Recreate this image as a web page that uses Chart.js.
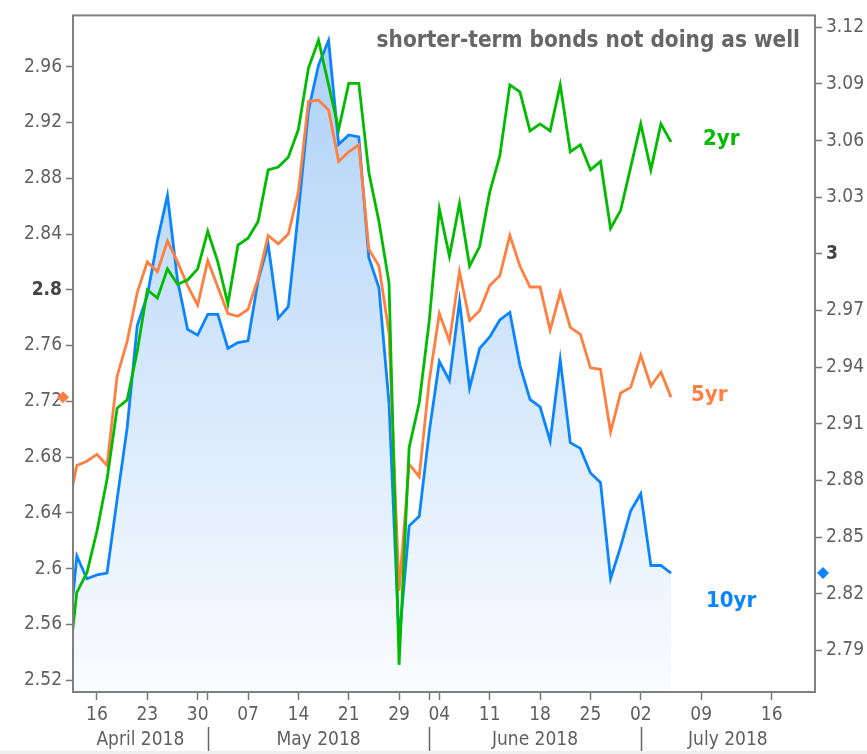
<!DOCTYPE html>
<html>
<head>
<meta charset="utf-8">
<script src="https://cdn.jsdelivr.net/npm/chart.js@4.4.1/dist/chart.umd.min.js"></script>
<style>
  html, body { margin:0; padding:0; background:#fff; }
  canvas { display:block; }
</style>
</head>
<body>
<canvas id="yieldChart" width="867" height="754"></canvas>
<script>
/* Treasury yields, Apr - Jul 2018: 2yr / 5yr on the left scale, 10yr on the right */

// trading days shown (first one sits just left of the plot edge)
const aprDays = [11,12,13,16,17,18,19,20,23,24,25,26,27,30];
const mayDays = [1,2,3,4,7,8,9,10,11,14,15,16,17,18,21,22,23,24,25,29,30,31];
const junDays = [1,4,5,6,7,8,11,12,13,14,15,18,19,20,21,22,25,26,27,28,29];
const julDays = [2,3,5,6];
// after the last close the axis runs on calendar days
const julFuture = [7,8,9,10,11,12,13,14,15,16,17,18,19,20,21];

const xTickDates = ['4/16','4/23','4/30','5/7','5/14','5/21','5/29','6/4','6/11','6/18','6/25','7/2','7/9','7/16'];
const monthStarts = ['5/1','6/1','7/2'];
const monthNames = ['April 2018','May 2018','June 2018','July 2018'];

const leftTicks  = [2.52,2.56,2.60,2.64,2.68,2.72,2.76,2.80,2.84,2.88,2.92,2.96];
const rightTicks = [2.79,2.82,2.85,2.88,2.91,2.94,2.97,3.00,3.03,3.06,3.09,3.12];

const yield2y = [
  2.517,2.583,2.597,2.627,2.664,2.715,2.721,2.756,2.800,2.794,2.815,2.804,2.807,2.815,
  2.842,2.820,2.790,2.832,2.837,2.849,2.886,2.888,2.895,2.915,2.959,2.979,2.947,2.915,2.948,2.948,2.884,2.849,2.805,2.531,2.687,2.719,
  2.778,2.858,2.824,2.862,2.817,2.831,2.870,2.896,2.947,2.942,2.914,2.919,2.914,2.947,2.899,2.904,2.886,2.892,2.844,2.857,2.888,
  2.919,2.886,2.919,2.906
];
const yield5y = [
  2.639,2.674,2.677,2.682,2.674,2.738,2.763,2.798,2.820,2.813,2.835,2.820,2.803,2.789,
  2.821,2.802,2.783,2.781,2.786,2.808,2.839,2.833,2.840,2.870,2.935,2.936,2.929,2.892,2.899,2.904,2.829,2.817,2.769,2.584,2.675,2.666,
  2.735,2.783,2.763,2.813,2.778,2.785,2.803,2.810,2.839,2.817,2.802,2.802,2.771,2.798,2.773,2.768,2.744,2.743,2.698,2.726,2.730,
  2.753,2.731,2.741,2.723
];
const yield10y = [
  2.785,2.840,2.828,2.830,2.831,2.870,2.908,2.962,2.978,3.007,3.031,2.986,2.960,2.957,
  2.968,2.968,2.950,2.953,2.954,2.986,3.005,2.966,2.972,3.022,3.076,3.100,3.113,3.058,3.063,3.062,2.998,2.982,2.921,2.795,2.856,2.861,
  2.906,2.943,2.933,2.975,2.929,2.950,2.956,2.965,2.969,2.941,2.923,2.919,2.901,2.944,2.900,2.897,2.884,2.879,2.828,2.845,2.864,
  2.873,2.835,2.835,2.831
];

const GREEN  = '#00bb00';
const ORANGE = '#ff7f40';
const BLUE   = '#0a84ff';
const FONT   = '"DejaVu Sans Condensed", "DejaVu Sans", sans-serif';

const axisDays = [].concat(
  aprDays.map(d => '4/' + d),
  mayDays.map(d => '5/' + d),
  junDays.map(d => '6/' + d),
  julDays.map(d => '7/' + d),
  julFuture.map(d => '7/' + d)
);
const slotOf = key => axisDays.indexOf(key);
const toPoints = arr => arr.map((v, i) => ({ x: i, y: v }));

// day ticks plus month-start ticks, without doubles
const tickSlots = [...new Set(xTickDates.map(slotOf).concat(monthStarts.map(slotOf)))].sort((a, b) => a - b);
function xLabel(value){
  const key = axisDays[value];
  if(!xTickDates.includes(key)) return '';
  return key.split('/')[1].padStart(2, '0');
}
const isBold = v => Math.abs(v - 2.8) < 1e-6 || Math.abs(v - 3) < 1e-6;

function fillGradient(c){
  const { ctx, chartArea } = c.chart;
  if(!chartArea) return 'rgba(0,0,0,0)';
  const g = ctx.createLinearGradient(0, chartArea.top, 0, chartArea.bottom);
  g.addColorStop(0, '#abd0f7');
  g.addColorStop(1, '#fafcff');
  return g;
}

function diamond(ctx, x, y, r, color){
  ctx.fillStyle = color;
  ctx.beginPath();
  ctx.moveTo(x, y - r); ctx.lineTo(x + r, y); ctx.lineTo(x, y + r); ctx.lineTo(x - r, y);
  ctx.closePath(); ctx.fill();
}

const overlay = {
  id: 'overlay',
  afterDraw(chart){
    const { ctx, chartArea: a, scales } = chart;
    const H = chart.height;
    ctx.save();

    // frame
    ctx.strokeStyle = '#808080';
    ctx.lineWidth = 2;
    ctx.strokeRect(a.left, a.top, a.right - a.left, a.bottom - a.top);

    // month row
    const bounds = [a.left].concat(monthStarts.map(k => scales.x.getPixelForValue(slotOf(k))), [a.right]);
    ctx.font = '19px ' + FONT;
    ctx.fillStyle = '#5f5f5f';
    ctx.textAlign = 'center';
    ctx.textBaseline = 'alphabetic';
    monthNames.forEach((m, i) => ctx.fillText(m, (bounds[i] + bounds[i + 1]) / 2, a.bottom + 53));
    ctx.strokeStyle = '#666';
    ctx.lineWidth = 1.5;
    bounds.slice(1, -1).forEach(x => {
      ctx.beginPath(); ctx.moveTo(Math.round(x) + 0.5, a.bottom + 35); ctx.lineTo(Math.round(x) + 0.5, H); ctx.stroke();
    });
    ctx.fillStyle = '#eeeeee';
    ctx.fillRect(0, H - 3, chart.width, 3);

    // last-value markers on the axes
    diamond(ctx, a.left - 10, scales.y.getPixelForValue(yield5y[yield5y.length - 1]), 6, ORANGE);
    diamond(ctx, a.right + 8, scales.y1.getPixelForValue(yield10y[yield10y.length - 1]), 6, BLUE);

    // annotations
    ctx.textAlign = 'right';
    ctx.font = 'bold 22.4px ' + FONT;
    ctx.fillStyle = '#666';
    ctx.fillText('shorter-term bonds not doing as well', 800, 47);

    ctx.textAlign = 'left';
    ctx.font = 'bold 22px ' + FONT;
    ctx.fillStyle = GREEN;  ctx.fillText('2yr', 703, 145);
    ctx.fillStyle = ORANGE; ctx.fillText('5yr', 691, 401);
    ctx.fillStyle = BLUE;   ctx.fillText('10yr', 706, 607);
    ctx.restore();
  }
};

const tickFont = c => ({ family: FONT, size: 19, weight: (c.tick && isBold(c.tick.value)) ? 'bold' : 'normal' });
const tickColor = c => (c.tick && isBold(c.tick.value)) ? '#444' : '#5f5f5f';

new Chart(document.getElementById('yieldChart'), {
  type: 'line',
  data: {
    datasets: [
      { label: '2yr',  data: toPoints(yield2y),  yAxisID: 'y',  borderColor: GREEN,  borderWidth: 2.8, pointRadius: 0, fill: false, clip: 0 },
      { label: '5yr',  data: toPoints(yield5y),  yAxisID: 'y',  borderColor: ORANGE, borderWidth: 2.8, pointRadius: 0, fill: false, clip: 0 },
      { label: '10yr', data: toPoints(yield10y), yAxisID: 'y1', borderColor: BLUE,   borderWidth: 2.8, pointRadius: 0,
        fill: 'start', backgroundColor: fillGradient, clip: 0 }
    ]
  },
  options: {
    responsive: false,
    animation: false,
    devicePixelRatio: 1,
    layout: { padding: { top: 10, left: 0, right: 0, bottom: 0 } },
    plugins: { legend: { display: false }, tooltip: { enabled: false } },
    scales: {
      x: {
        type: 'linear',
        min: 0.62, max: 74.3,
        afterBuildTicks: s => { s.ticks = tickSlots.map(v => ({ value: v })); },
        afterFit: s => { s.height = 62; },
        grid: { drawOnChartArea: false, drawTicks: true, tickLength: 8, color: '#777', tickWidth: 1.5 },
        border: { display: false },
        ticks: { autoSkip: false, maxRotation: 0, padding: 4, color: '#5f5f5f', font: { family: FONT, size: 19 }, callback: v => xLabel(v) }
      },
      y: {
        position: 'left',
        min: 2.5115, max: 2.9968,
        afterBuildTicks: s => { s.ticks = leftTicks.map(v => ({ value: v })); },
        afterFit: s => { s.width = 73; },
        grid: { drawOnChartArea: false, drawTicks: true, tickLength: 7, color: '#777', tickWidth: 1.5 },
        border: { display: false },
        ticks: { padding: 4, color: tickColor, font: tickFont, callback: v => String(+v.toFixed(2)) }
      },
      y1: {
        position: 'right',
        min: 2.768, max: 3.1263,
        afterBuildTicks: s => { s.ticks = rightTicks.map(v => ({ value: v })); },
        afterFit: s => { s.width = 52; },
        grid: { drawOnChartArea: false, drawTicks: true, tickLength: 7, color: '#777', tickWidth: 1.5 },
        border: { display: false },
        ticks: { padding: 4, color: tickColor, font: tickFont, callback: v => String(+v.toFixed(2)) }
      }
    }
  },
  plugins: [overlay]
});
</script>
</body>
</html>
